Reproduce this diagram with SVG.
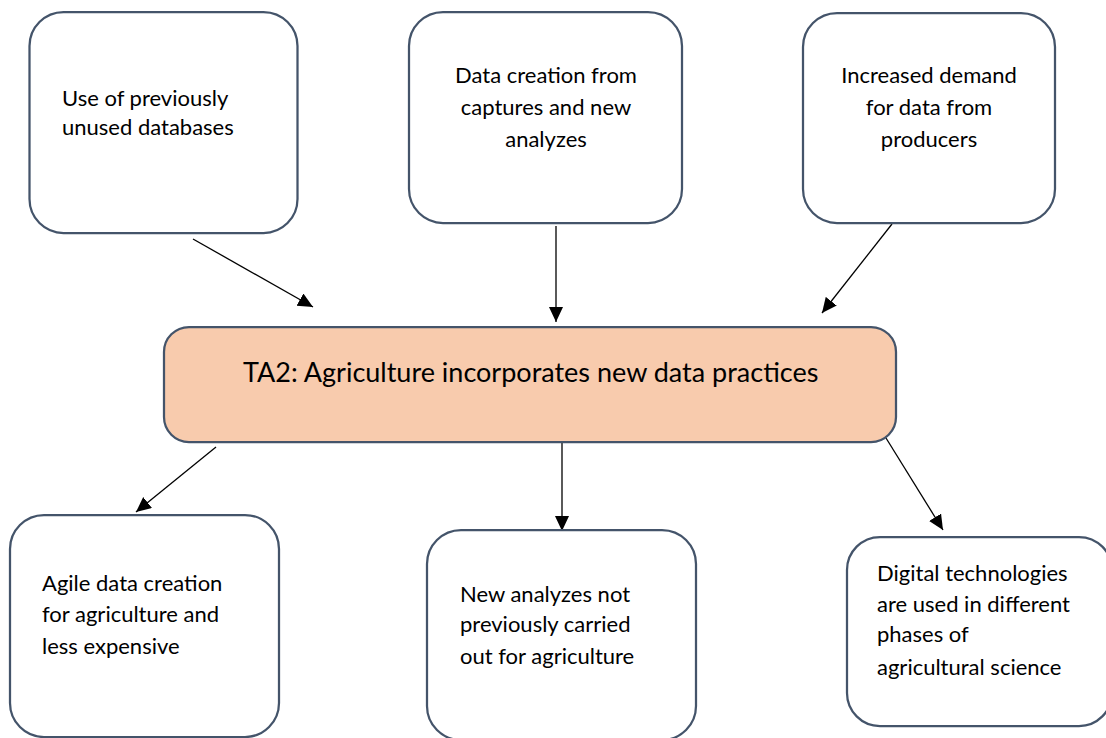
<svg xmlns="http://www.w3.org/2000/svg" width="1106" height="738" viewBox="0 0 1106 738">
  <style>
    .box { fill: #ffffff; stroke: #44546A; stroke-width: 2.25; }
    .core { fill: #F8CBAD; stroke: #44546A; stroke-width: 2.25; }
    .lbl { font-family: Lato, "Open Sans", "Liberation Sans", sans-serif; font-size: 22px; fill: #000000; }
    .mid { text-anchor: middle; }
    .title { font-family: Lato, "Open Sans", "Liberation Sans", sans-serif; font-size: 27px; fill: #000000; }
    .link { stroke: #000000; stroke-width: 1.3; fill: none; marker-end: url(#head); }
  </style>
  <defs>
    <marker id="head" markerUnits="userSpaceOnUse" markerWidth="16" markerHeight="15" refX="15" refY="7" orient="auto">
      <path d="M0,0 L15,7 L0,14 z" fill="#000000"/>
    </marker>
  </defs>
  <rect width="1106" height="738" fill="#ffffff"/>

  <g id="connectors">
    <line class="link" x1="193" y1="239" x2="313" y2="307"/>
    <line class="link" x1="556" y1="226" x2="556" y2="322"/>
    <line class="link" x1="892" y1="224" x2="822" y2="313"/>
    <line class="link" x1="216" y1="447" x2="136" y2="512"/>
    <line class="link" x1="562" y1="437" x2="562" y2="531"/>
    <line class="link" x1="886" y1="438" x2="943" y2="530"/>
  </g>

  <g id="node-databases">
    <rect class="box" x="29.5" y="12" width="268" height="221" rx="34"/>
    <text class="lbl" x="62" y="106">Use of previously</text>
    <text class="lbl" x="62" y="135">unused databases</text>
  </g>

  <g id="node-captures">
    <rect class="box" x="409" y="12" width="273" height="211" rx="34"/>
    <text class="lbl mid" x="546" y="83">Data creation from</text>
    <text class="lbl mid" x="546" y="115">captures and new</text>
    <text class="lbl mid" x="546" y="147">analyzes</text>
  </g>

  <g id="node-demand">
    <rect class="box" x="803" y="13" width="252" height="210" rx="34"/>
    <text class="lbl mid" x="929" y="83">Increased demand</text>
    <text class="lbl mid" x="929" y="115">for data from</text>
    <text class="lbl mid" x="929" y="147">producers</text>
  </g>

  <g id="node-ta2">
    <rect class="core" x="164" y="327" width="732" height="115" rx="25"/>
    <text class="title" x="243" y="382">TA2: Agriculture incorporates new data practices</text>
  </g>

  <g id="node-agile">
    <rect class="box" x="10" y="515" width="269" height="222" rx="34"/>
    <text class="lbl" x="42" y="591">Agile data creation</text>
    <text class="lbl" x="42" y="622">for agriculture and</text>
    <text class="lbl" x="42" y="654">less expensive</text>
  </g>

  <g id="node-analyzes">
    <rect class="box" x="427" y="530" width="269" height="210" rx="34"/>
    <text class="lbl" x="460" y="602">New analyzes not</text>
    <text class="lbl" x="460" y="632">previously carried</text>
    <text class="lbl" x="460" y="664">out for agriculture</text>
  </g>

  <g id="node-digital">
    <rect class="box" x="847" y="537" width="265" height="189" rx="33"/>
    <text class="lbl" x="877" y="581">Digital technologies</text>
    <text class="lbl" x="877" y="612">are used in different</text>
    <text class="lbl" x="877" y="642">phases of</text>
    <text class="lbl" x="877" y="675">agricultural science</text>
  </g>
</svg>
